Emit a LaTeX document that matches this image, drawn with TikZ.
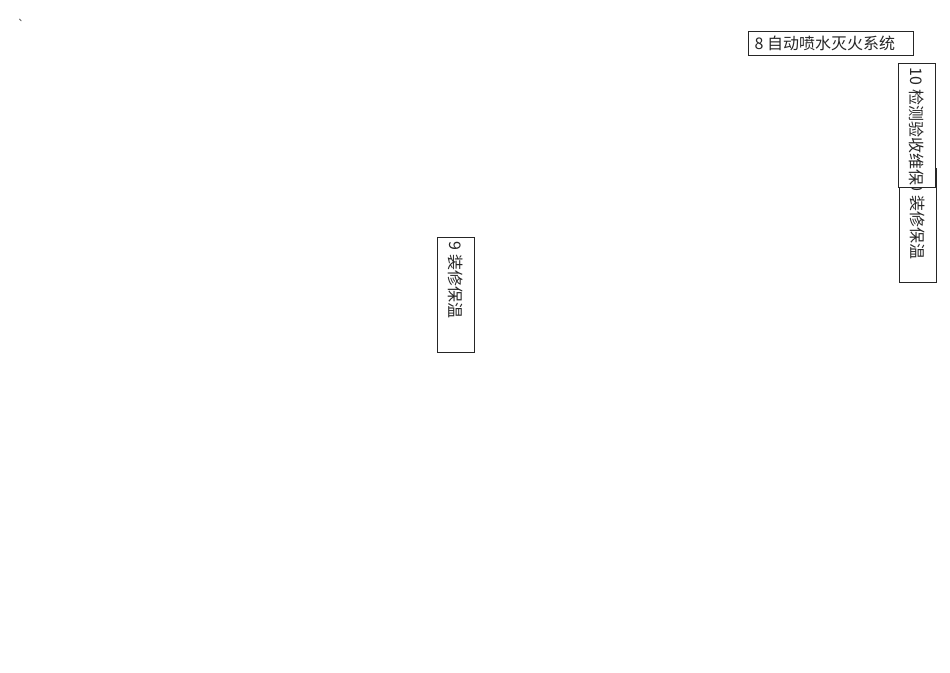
\documentclass[tikz,border=0pt]{standalone}
\usepackage{fontspec}
\newfontfamily\cjk{Noto Sans CJK SC}
\begin{document}
\begin{tikzpicture}[x=0.75pt,y=-0.75pt,
  hbox/.style={draw=black!85, line width=0.7pt, fill=white, font=\cjk\fontsize{12pt}{14pt}\selectfont, text=black!85,
    minimum width=123.75pt, minimum height=18pt, inner xsep=5pt, inner ysep=0pt},
  vbox/.style={draw=black!85, line width=0.7pt, fill=white, font=\cjk\fontsize{12pt}{14pt}\selectfont, text=black!85,
    rotate=-90, minimum height=27.75pt, inner xsep=3.5pt, inner ysep=0pt}
]
\useasboundingbox (0,0) rectangle (950,672);
\node[font=\cjk\fontsize{9pt}{10pt}\selectfont, text=black!70, inner sep=0pt] (tick) at (21,24) {`};
\node[hbox] (b8) at (830.5,43) {\makebox[113.75pt][l]{8 自动喷水灭火系统}};
\node[vbox, minimum width=85.5pt, inner xsep=4.5pt] (b9r) at (917.5,225) {\makebox[76.5pt][l]{10 装修保温}};
\node[vbox, minimum width=93pt] (b10) at (916.5,125) {\makebox[86pt][l]{10 检测验收维保}};
\node[vbox, minimum width=86.25pt] (b9) at (455.5,294.5) {\makebox[79.25pt][l]{9 装修保温}};
\end{tikzpicture}
\end{document}
